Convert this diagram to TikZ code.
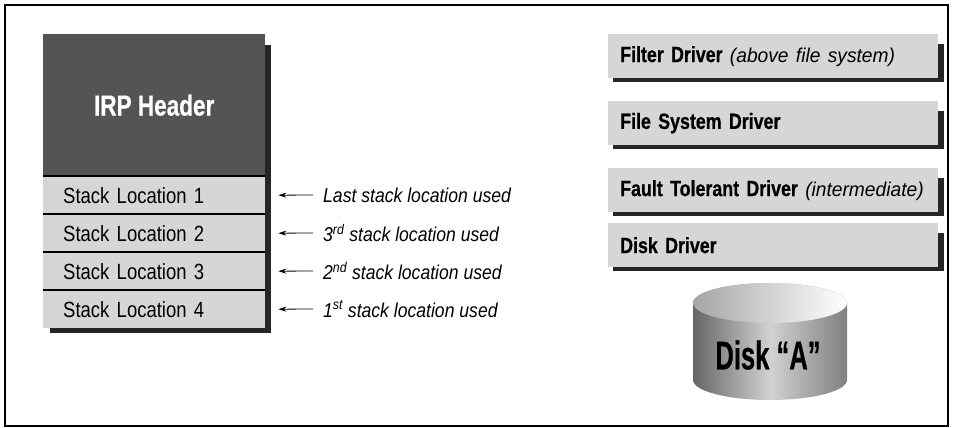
\documentclass[tikz,border=0pt]{standalone}
\usepackage{fontspec}
\usepackage{graphicx}
\setmainfont{Liberation Sans}[FakeStretch=0.84]
\newfontfamily\drvfont{Liberation Sans}[FakeStretch=0.81, BoldFeatures={FakeBold=0.6}]
\newfontfamily\notefont{Liberation Sans}[FakeStretch=0.96]
\newfontfamily\annfont{Liberation Sans}[FakeStretch=0.88]
\usetikzlibrary{arrows.meta,backgrounds}
\definecolor{boxgray}{gray}{0.84}
\definecolor{hdrgray}{gray}{0.33}
\newcommand\drvnote{\notefont\fontsize{20}{22}\selectfont\mdseries\itshape}
\begin{document}
\begin{tikzpicture}[x=1pt,y=-1pt,
  rowbox/.style={fill=boxgray, draw=none, minimum width=222pt, minimum height=38pt,
    inner xsep=20pt, inner ysep=0pt, text width=182pt, align=left, anchor=north west,
    font=\fontsize{22}{24}\selectfont},
  hdrbox/.style={fill=hdrgray, draw=none, minimum width=222pt, minimum height=142pt,
    inner sep=0pt, anchor=north west},
  hdrtext/.style={text=white, font=\drvfont\fontsize{29}{32}\selectfont\bfseries, inner sep=0pt},
  ann/.style={anchor=west, inner sep=0pt, font=\annfont\fontsize{20}{22}\selectfont\itshape},
  drvbox/.style={fill=boxgray, draw=none, minimum width=330pt, minimum height=44pt,
    inner xsep=12pt, inner ysep=0pt, text width=306pt, align=left, anchor=north west,
    font=\drvfont\fontsize{22}{24}\selectfont\bfseries},
  arr/.style={-{Stealth[length=8pt,width=5pt]}, line width=0.8pt},
  sep/.style={line width=1.2pt},
  shadowfill/.style={fill=black!85}
]
\useasboundingbox (0,0) rectangle (953,428);
\draw[line width=1.5pt] (5,5) rectangle (948,426);

% left IRP stack
\node[hdrbox] (hdr) at (43,34) {};
\node[hdrtext] (hdrlabel) at (hdr.center) {\scalebox{0.96}[1]{IRP Header}};
\node[rowbox] (r1) at (43,176) {Stack Location 1};
\node[rowbox] (r2) at (43,214) {Stack Location 2};
\node[rowbox] (r3) at (43,252) {Stack Location 3};
\node[rowbox] (r4) at (43,290) {Stack Location 4};
\draw[sep] (r1.north west) -- (r1.north east);
\draw[sep] (r2.north west) -- (r2.north east);
\draw[sep] (r3.north west) -- (r3.north east);
\draw[sep] (r4.north west) -- (r4.north east);

% annotations
\node[ann] (a1) at (323,195) {Last stack location used};
\node[ann] (a2) at (323,233) {3\textsuperscript{rd} stack location used};
\node[ann] (a3) at (323,271) {2\textsuperscript{nd} stack location used};
\node[ann] (a4) at (323,309) {1\textsuperscript{st} stack location used};
\draw[arr] ([xshift=-10pt]a1.west) -- ([xshift=13pt]r1.east);
\draw[arr] ([xshift=-10pt]a2.west) -- ([xshift=13pt]r2.east);
\draw[arr] ([xshift=-10pt]a3.west) -- ([xshift=13pt]r3.east);
\draw[arr] ([xshift=-10pt]a4.west) -- ([xshift=13pt]r4.east);

% driver stack
\node[drvbox] (d1) at (608,34) {Filter Driver {\drvnote (above file system)}};
\node[drvbox] (d2) at (608,101) {File System Driver};
\node[drvbox] (d3) at (608,168) {Fault Tolerant Driver {\drvnote (intermediate)}};
\node[drvbox] (d4) at (608,223) {Disk Driver};

% disk cylinder
\shade[left color=black!60, right color=black!50, middle color=black!18]
  (693,303) -- (693,380) arc[start angle=180, end angle=0, x radius=77, y radius=20]
  -- (847,303) arc[start angle=0, end angle=-180, x radius=77, y radius=20] -- cycle;
\shade[left color=black!35, right color=white]
  (770,303) ellipse[x radius=77, y radius=20];
\node[inner sep=0pt, font=\drvfont\fontsize{40}{44}\selectfont\bfseries] (disk) at (768,355)
  {\scalebox{0.79}[1]{Disk “A”}};

\begin{scope}[on background layer]
  \fill[shadowfill] ([shift={(7,11)}]hdr.north west) rectangle ([shift={(6,5)}]r4.south east);
  \fill[shadowfill] ([shift={(5,10)}]d1.north west) rectangle ([shift={(6,4)}]d1.south east);
  \fill[shadowfill] ([shift={(5,10)}]d2.north west) rectangle ([shift={(6,4)}]d2.south east);
  \fill[shadowfill] ([shift={(5,10)}]d3.north west) rectangle ([shift={(6,4)}]d3.south east);
  \fill[shadowfill] ([shift={(5,10)}]d4.north west) rectangle ([shift={(6,4)}]d4.south east);
\end{scope}
\end{tikzpicture}
\end{document}
